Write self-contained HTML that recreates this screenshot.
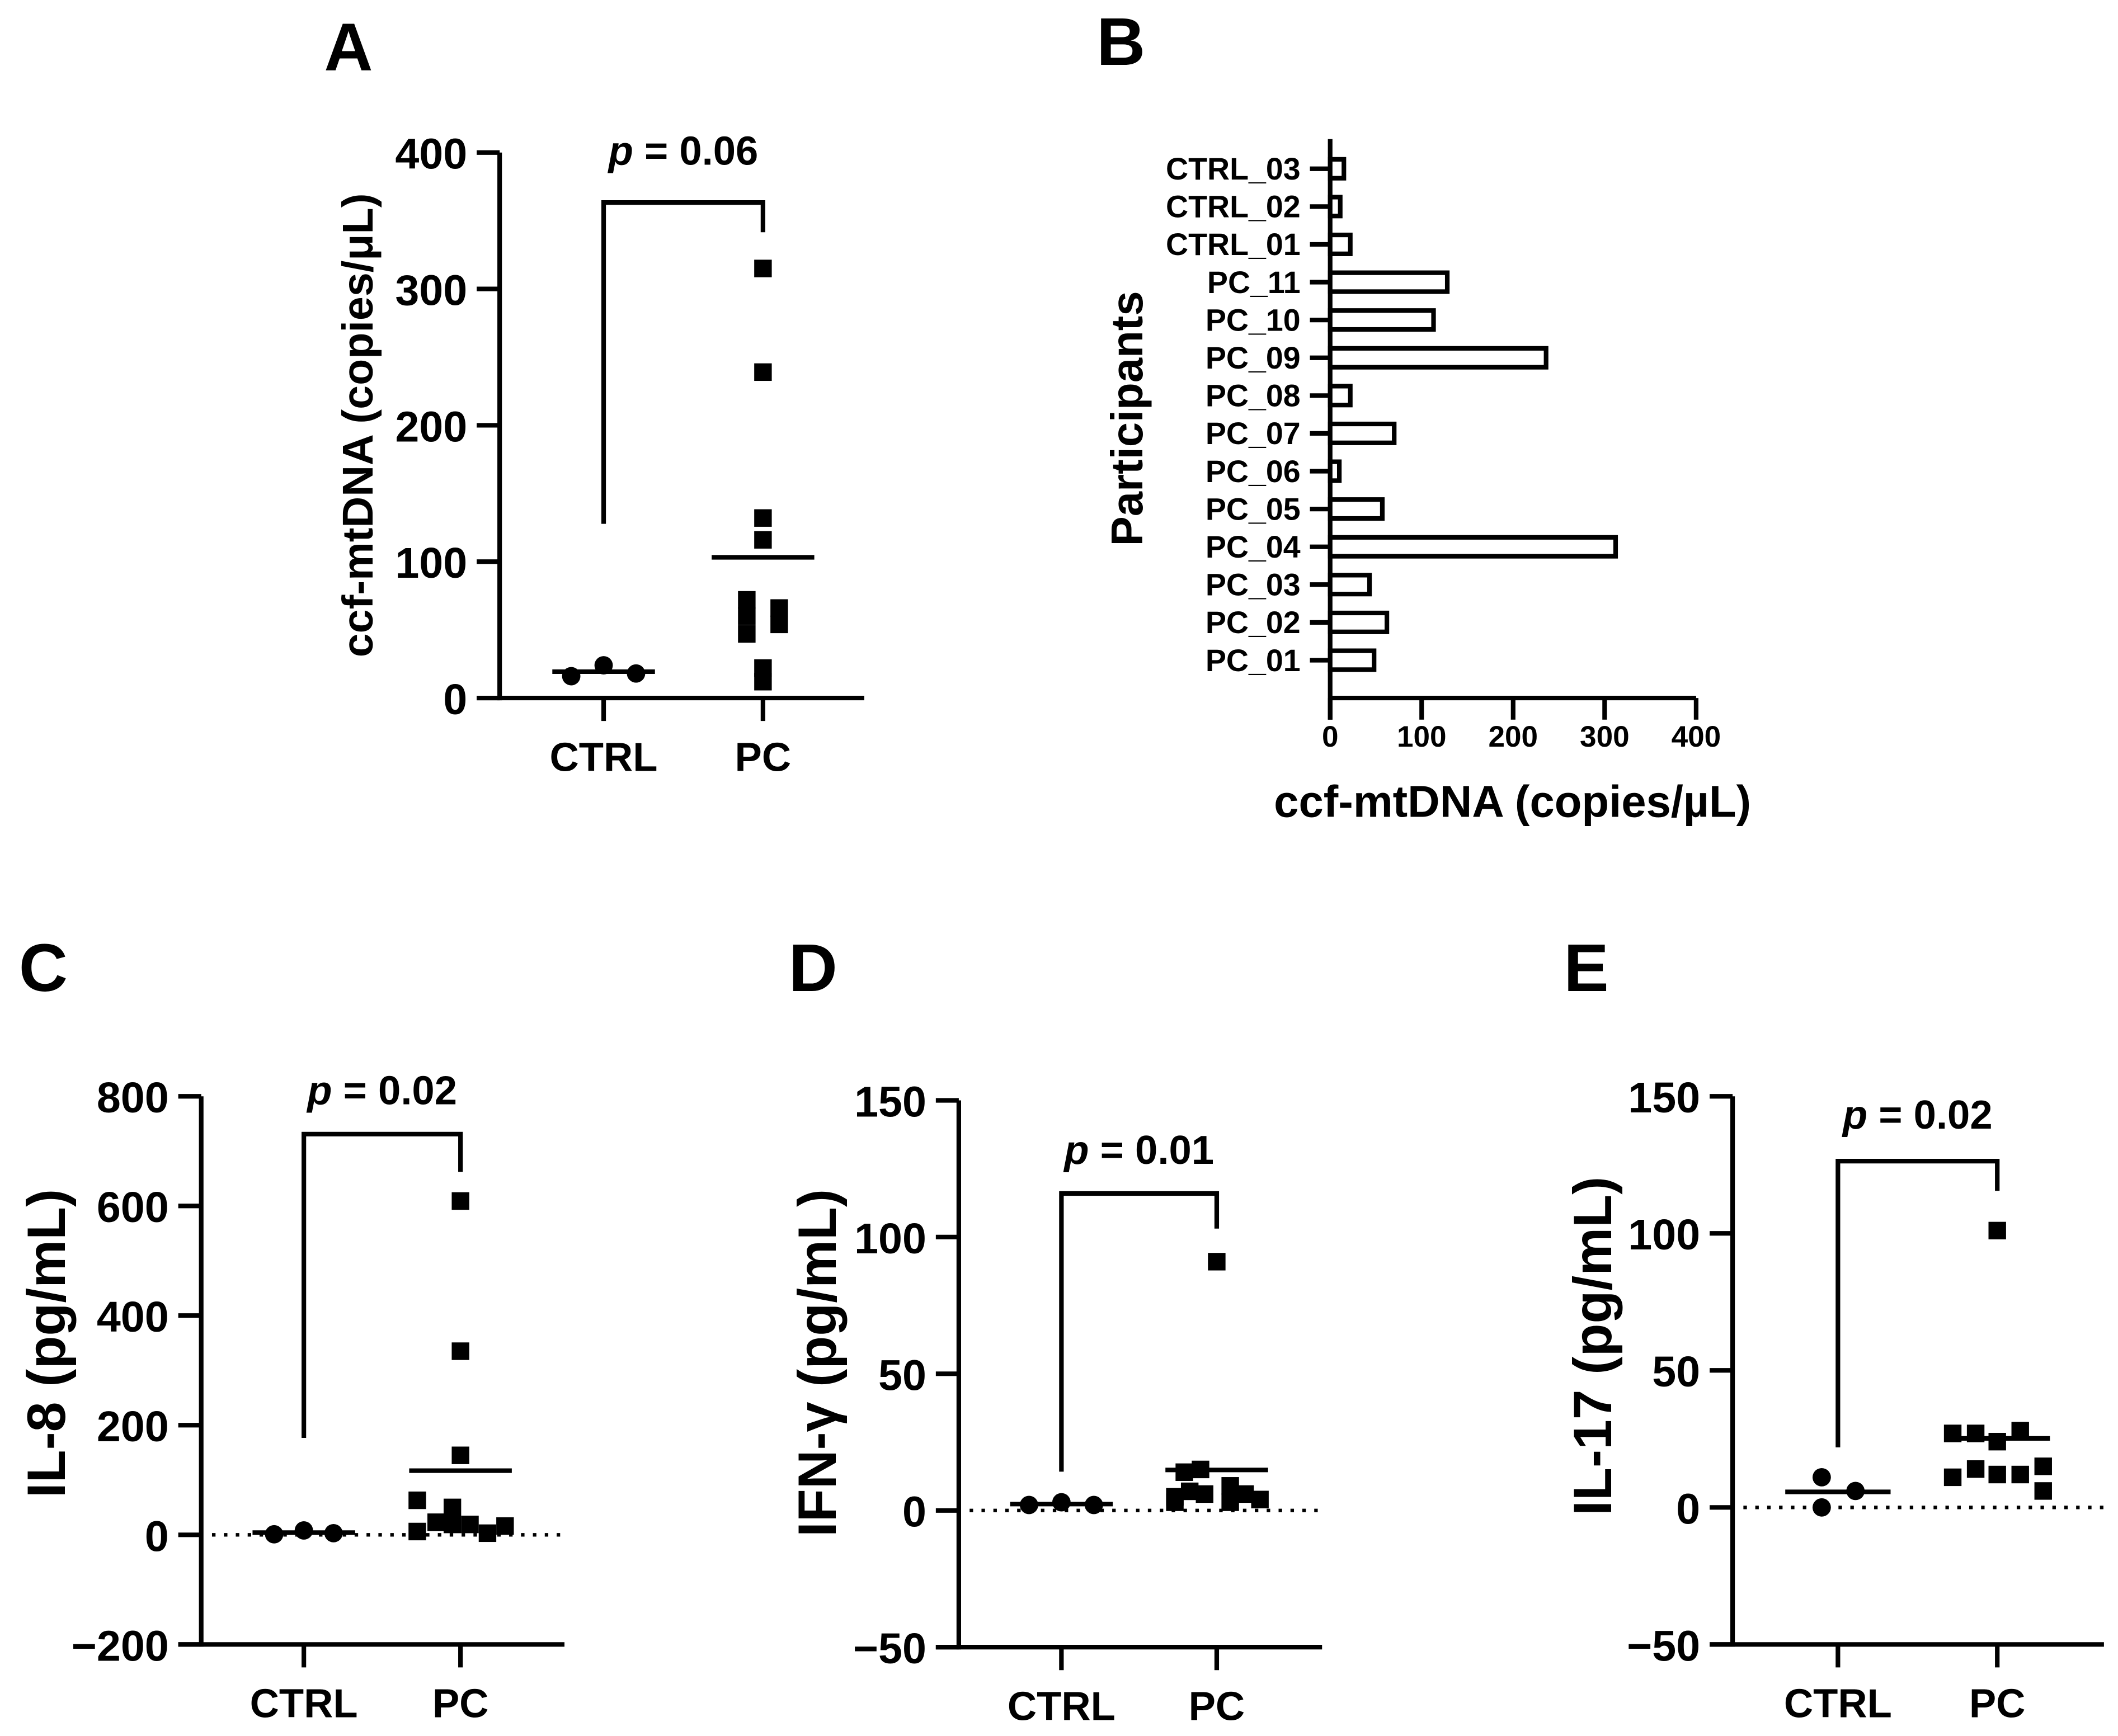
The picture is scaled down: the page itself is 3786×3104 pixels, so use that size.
<!DOCTYPE html>
<html><head><meta charset="utf-8">
<style>
html,body{margin:0;padding:0;background:#fff;}
svg{display:block;}
text{font-family:"Liberation Sans",Arial,sans-serif;font-weight:bold;fill:#000;}
</style></head>
<body>
<svg id="fig" width="3786" height="3104" viewBox="0 0 1568.4 1285.8" preserveAspectRatio="none" xmlns="http://www.w3.org/2000/svg">
<rect width="1568.4" height="1285.8" fill="#fff"/>
</svg>
<script>
// ---------- Panel A data ----------
const aCats = ["CTRL","PC"];
const aCtrl = [16, 24, 18];
const aPC = [315, 239, 132, 116, 72, 60, 47, 66, 54, 22, 12];
const aTicks = [0, 100, 200, 300, 400];
// ---------- Panel B data ----------
const bParticipants = ["CTRL_03","CTRL_02","CTRL_01","PC_11","PC_10","PC_09","PC_08","PC_07","PC_06","PC_05","PC_04","PC_03","PC_02","PC_01"];
const bValues = [15, 11, 22, 128, 113, 236, 22, 70, 10, 57, 312, 43, 62, 48];
const bTicks = [0, 100, 200, 300, 400];
// ---------- Panel C data ----------
const cCtrl = [1, 8, 3];
const cPC = [609, 335, 145, 63, 50, 23, 19, 19, 6, 3, 16];
const cTicks = [-200, 0, 200, 400, 600, 800];
// ---------- Panel D data ----------
const dCtrl = [2, 3, 2];
const dPC = [91, 15, 14, 5, 7, 6, 9, 3, 6, 4, 3];
const dTicks = [-50, 0, 50, 100, 150];
// ---------- Panel E data ----------
const eCtrl = [11, 0, 6];
const ePC = [101, 27, 27, 24, 28, 11, 14, 12, 12, 15, 6];
const eTicks = [-50, 0, 50, 100, 150];

// jitter (layout only, horizontal offsets of markers)
const jitA = {ctrl:[-24,0,24], pc:[0,0,0,0,-12,-12,-12,12,12,0,0]};
const jitC = {ctrl:[-22,0,22], pc:[0,0,0,-32,-6,-18,-6,7,-32,20,33]};
const jitD = {ctrl:[-24,0,24], pc:[0,-12,-24,-31,-20,-9,10,10,21,32,-31]};
const jitE = {ctrl:[-12,-12,13], pc:[0,-33,-16,0,17,-33,-16,0,17,34,34]};

const NS = "http://www.w3.org/2000/svg";
const svg = document.getElementById('fig');
function el(tag, attrs, parent){
  const e = document.createElementNS(NS, tag);
  for (const k in attrs) e.setAttribute(k, attrs[k]);
  (parent||svg).appendChild(e);
  return e;
}
function txt(s, attrs, parent){ const t = el('text', attrs, parent); t.textContent = s; return t; }
function fmt(v){ return v < 0 ? '\u2212' + Math.abs(v) : String(v); }
const LW = 3.4;

function scatterPanel(cfg){
  const g = el('g', {});
  
  
  const ymin = cfg.ticks[0], ymax = cfg.ticks[cfg.ticks.length-1];
  const Y = v => cfg.y0 + (v - ymin) / (ymax - ymin) * (cfg.y1 - cfg.y0);
  const L = txt(cfg.letter, {x:cfg.letterX, y:cfg.letterY, 'font-size':50, fill:'#333'}, g);
  
  
  const ya = el('line', {x1:cfg.ax, y1:cfg.y1, x2:cfg.ax, y2:cfg.y0 + LW/2, stroke:'#000', 'stroke-width':LW}, g);
  
  
  const xa = el('line', {x1:cfg.ax - 17, y1:cfg.y0, x2:cfg.axEnd, y2:cfg.y0, stroke:'#000', 'stroke-width':LW}, g);
  
  
  cfg.ticks.forEach(t => {
    const yy = Y(t);
    const tk = el('line', {x1:cfg.ax - 17, y1:yy, x2:cfg.ax, y2:yy, stroke:'#000', 'stroke-width':LW}, g);
    
    
    const tl = txt(fmt(t), {x:cfg.ax - 24, y:yy + 12, 'font-size':32, 'text-anchor':'end'}, g);
    
    
  });
  if (ymin < 0){
    const z = el('line', {x1:cfg.ax + 8, y1:Y(0), x2:cfg.axEnd, y2:Y(0), stroke:'#000', 'stroke-width':2.6, 'stroke-dasharray':'2.6 6.2'}, g);
    
    
  }
  const xs = [cfg.xc, cfg.xp];
  ["CTRL","PC"].forEach((c,i) => {
    const tk = el('line', {x1:xs[i], y1:cfg.y0, x2:xs[i], y2:cfg.y0 + 17, stroke:'#000', 'stroke-width':LW}, g);
    
    
    const tl = txt(c, {x:xs[i], y:cfg.y0 + 54, 'font-size':30, 'text-anchor':'middle'}, g);
    
    
  });
  const ty = txt(cfg.ytitle, {x:0, y:0, 'font-size':cfg.tfs, 'text-anchor':'middle', transform:`translate(${cfg.titleX},${(cfg.y0+cfg.y1)/2 + (cfg.titleDy||0)}) rotate(-90)`}, g);
  
  
  const br = el('path', {d:`M${cfg.xc},${cfg.brL} V${cfg.brTop} H${cfg.xp} V${cfg.brR}`, fill:'none', stroke:'#000', 'stroke-width':LW}, g);
  
  
  const pt = txt('', {x:(cfg.xc+cfg.xp)/2, y:cfg.pY, 'font-size':30, 'text-anchor':'middle'}, g);
  
  
  const pi = document.createElementNS(NS,'tspan'); pi.setAttribute('font-style','italic'); pi.textContent='p'; pt.appendChild(pi);
  const pr = document.createElementNS(NS,'tspan'); pr.textContent=' = ' + cfg.p; pt.appendChild(pr);
  cfg.ctrl.forEach((v,i) => {
    const c = el('circle', {cx:cfg.xc + cfg.jit.ctrl[i], cy:Y(v), r:6.8, fill:'#000'}, g);
    
    
  });
  cfg.pc.forEach((v,i) => {
    const s = el('rect', {x:cfg.xp + cfg.jit.pc[i] - 6.5, y:Y(v) - 6.5, width:13, height:13, fill:'#000'}, g);
    
    
  });
  const mean = a => a.reduce((s,v)=>s+v,0)/a.length;
  const m1 = el('line', {x1:cfg.xc - cfg.mw, y1:Y(mean(cfg.ctrl)), x2:cfg.xc + cfg.mw, y2:Y(mean(cfg.ctrl)), stroke:'#000', 'stroke-width':LW}, g);
  
  
  const m2 = el('line', {x1:cfg.xp - cfg.mw, y1:Y(mean(cfg.pc)), x2:cfg.xp + cfg.mw, y2:Y(mean(cfg.pc)), stroke:'#000', 'stroke-width':LW}, g);
  
  
}

scatterPanel({name:'panel-a', letter:'A', letterX:240, letterY:52, ax:370, axEnd:640, y0:517, y1:113,
  xc:447, xp:565, ticks:aTicks, ctrl:aCtrl, pc:aPC, jit:jitA, mw:38, tfs:32,
  ytitle:'ccf-mtDNA (copies/\u03bcL)', titleX:276, brTop:150, brL:388, brR:172, pY:122, p:'0.06'});
scatterPanel({name:'panel-c', letter:'C', letterX:14, letterY:734, ax:149, axEnd:418, y0:1218, y1:812,
  xc:225, xp:341, ticks:cTicks, ctrl:cCtrl, pc:cPC, jit:jitC, mw:38, tfs:40,
  ytitle:'IL-8 (pg/mL)', titleX:48, titleDy:-20, brTop:840, brL:1065, brR:868, pY:818, p:'0.02'});
scatterPanel({name:'panel-d', letter:'D', letterX:584, letterY:734, ax:710, axEnd:979, y0:1220, y1:815,
  xc:786, xp:901, ticks:dTicks, ctrl:dCtrl, pc:dPC, jit:jitD, mw:38, tfs:40,
  ytitle:'IFN-\u03b3 (pg/mL)', titleX:619, titleDy:-8, brTop:884, brL:1090, brR:910, pY:862, p:'0.01'});
scatterPanel({name:'panel-e', letter:'E', letterX:1158, letterY:734, ax:1283, axEnd:1558, y0:1218, y1:812,
  xc:1361, xp:1479, ticks:eTicks, ctrl:eCtrl, pc:ePC, jit:jitE, mw:39, tfs:40,
  ytitle:'IL-17 (pg/mL)', titleX:1193, titleDy:-18, brTop:860, brL:1072, brR:882, pY:836, p:'0.02'});

// ---------- Panel B ----------
(function(){
  const g = el('g', {});
  
  
  const ax = 985, xEnd = 1256, y0 = 517, yTop = 103;
  const X = v => ax + (v - bTicks[0]) / (bTicks[bTicks.length-1] - bTicks[0]) * (xEnd - ax);
  const rowY = i => 125 + i * 28;
  const L = txt('B', {x:812, y:48, 'font-size':50, fill:'#333'}, g);
  
  
  const ya = el('line', {x1:ax, y1:yTop, x2:ax, y2:y0 + 16, stroke:'#000', 'stroke-width':LW}, g);
  
  
  const xa = el('line', {x1:ax, y1:y0, x2:xEnd, y2:y0, stroke:'#000', 'stroke-width':LW}, g);
  
  
  bTicks.forEach(t => {
    const tk = el('line', {x1:X(t), y1:y0, x2:X(t), y2:y0 + 16, stroke:'#000', 'stroke-width':LW}, g);
    
    
    const tl = txt(String(t), {x:X(t), y:y0 + 36, 'font-size':22, 'text-anchor':'middle'}, g);
    
    
  });
  bParticipants.forEach((p,i) => {
    const yy = rowY(i);
    const tk = el('line', {x1:ax - 15, y1:yy, x2:ax, y2:yy, stroke:'#000', 'stroke-width':LW}, g);
    
    
    const tl = txt(p, {x:ax - 22, y:yy + 8, 'font-size':23, 'text-anchor':'end'}, g);
    
    
    const w = Math.max(X(bValues[i]) - ax, 4);
    const b = el('rect', {x:ax, y:yy - 7, width:w, height:14, fill:'#fff', stroke:'#000', 'stroke-width':LW}, g);
    
    
  });
  const ty = txt('Participants', {x:0, y:0, 'font-size':33, 'text-anchor':'middle', transform:'translate(846,310) rotate(-90)'}, g);
  
  
  const tx = txt('ccf-mtDNA (copies/\u00b5L)', {x:1120, y:605, 'font-size':33, 'text-anchor':'middle'}, g);
  
  
})();
</script>
</body></html>
